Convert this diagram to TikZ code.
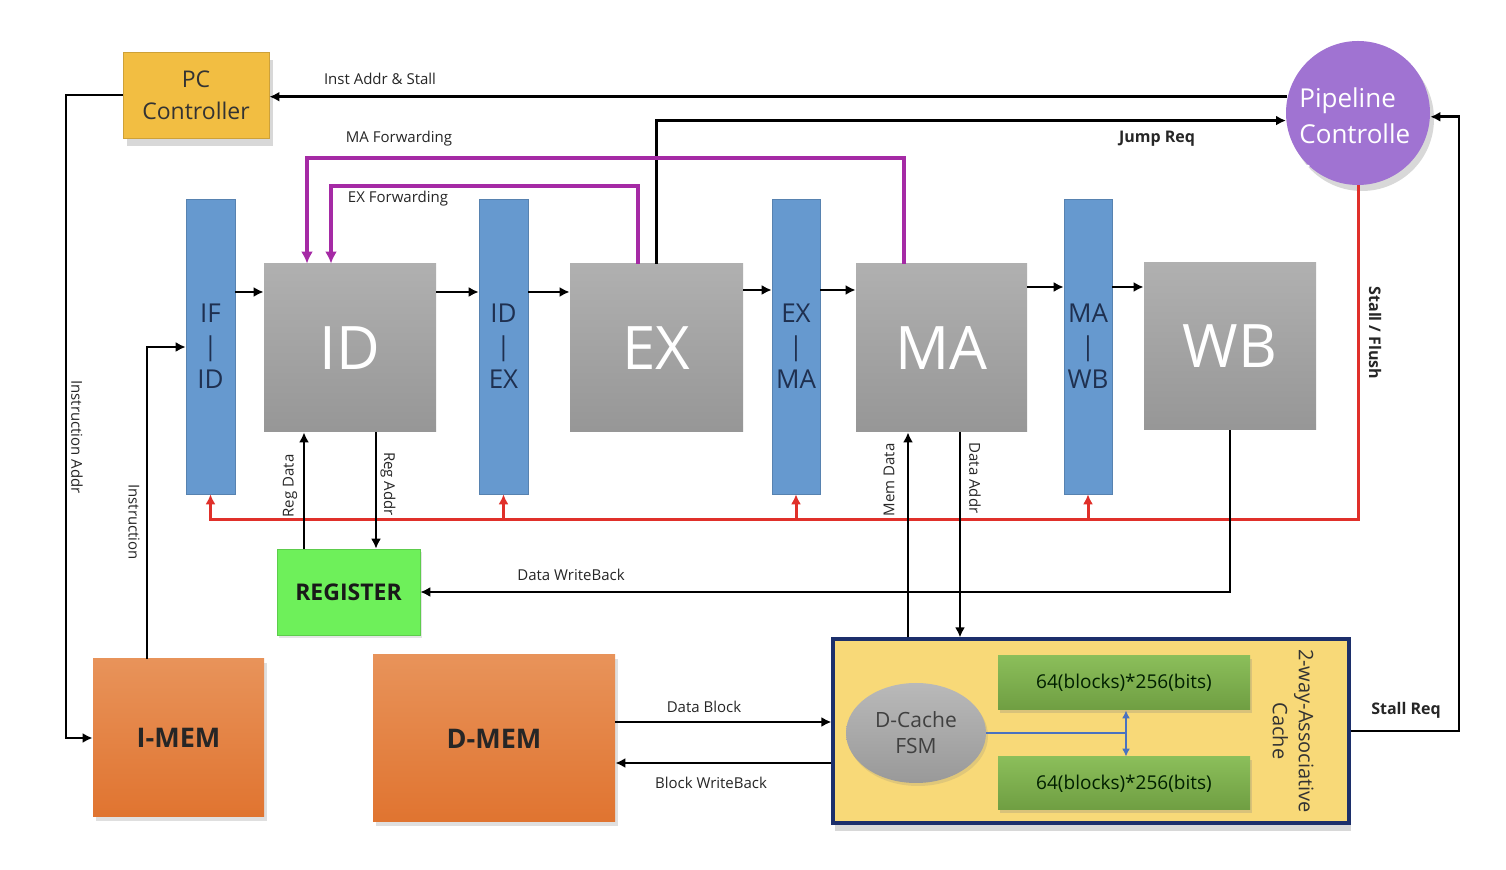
\documentclass[tikz,border=0pt]{standalone}
\usepackage{fontspec}
\setmainfont{Open Sans}
\usetikzlibrary{arrows.meta,shapes.geometric,shadows,fit}
\definecolor{pcyel}{HTML}{F2BE42}
\definecolor{pipepur}{HTML}{A073D2}
\definecolor{barblue}{HTML}{6699CF}
\definecolor{fwdpur}{HTML}{A52AA5}
\definecolor{stallred}{HTML}{E0302A}
\definecolor{reggreen}{HTML}{6EF05A}
\definecolor{cachefill}{HTML}{F8D978}
\definecolor{cacheline}{HTML}{1C2F6B}
\definecolor{blktop}{HTML}{8BBE5A}
\definecolor{blkbot}{HTML}{6F9E42}
\definecolor{memtop}{HTML}{E8935A}
\definecolor{membot}{HTML}{E07430}
\definecolor{bartext}{HTML}{1F3050}
\definecolor{linkblue}{HTML}{4A72C0}
\begin{document}
\begin{tikzpicture}[x=0.5pt,y=-0.5pt,
  lbl/.style={font=\fontsize{7.5}{9}\selectfont, text=black!85, inner sep=1pt},
  blbl/.style={font=\fontsize{8}{9.5}\selectfont\bfseries, text=black!85, inner sep=1pt},
  arr/.style={line width=1.3pt, -{Latex[length=5pt,width=5pt]}},
  fwd/.style={line width=1.8pt, draw=fwdpur, -{Latex[length=6pt,width=6pt]}},
  redarr/.style={line width=1.5pt, draw=stallred, -{Latex[length=5pt,width=5pt]}},
  stagebox/.style={inner sep=0pt, draw=none, top color=gray!62, bottom color=gray!82},
  stagetxt/.style={inner sep=0pt, text=white, font=\fontsize{30}{34}\selectfont},
  latch/.style={inner sep=0pt, draw=barblue!85!black, line width=0.3pt, fill=barblue},
  latchtxt/.style={inner sep=0pt, text=bartext, align=center, font=\fontsize{13}{16.5}\selectfont},
  membox/.style={inner sep=0pt, draw=none, top color=memtop, bottom color=membot, drop shadow={opacity=0.25, shadow xshift=1.5pt, shadow yshift=-2pt}},
  memtxt/.style={inner sep=0pt, text=black!85, font=\fontsize{13.5}{16}\selectfont\bfseries},
  blockbox/.style={inner sep=0pt, draw=none, top color=blktop, bottom color=blkbot, drop shadow={opacity=0.25, shadow xshift=1pt, shadow yshift=-1.5pt}},
  blocktxt/.style={inner sep=0pt, text=black!70!green!40!black, font=\fontsize{9.5}{11}\selectfont}
]
\useasboundingbox (0,0) rectangle (1506,870);
\fill[white] (0,0) rectangle (1506,870);

% main nodes
\node[inner sep=0pt, fill=pcyel, draw=pcyel!85!black, line width=0.4pt,
      drop shadow={opacity=0.3, shadow xshift=2pt, shadow yshift=-4pt}, fit={(123,52)(269,138)}] (pcc) {};
\node[inner sep=0pt, align=center, text=black!80, font=\fontsize{11.5}{16}\selectfont] (pcctxt) at (pcc.center) {PC\\Controller};
\node[circle, inner sep=0pt, minimum size=72pt, fill=pipepur, draw=none,
      drop shadow={opacity=0.3, shadow xshift=2pt, shadow yshift=-3pt}] (pipe) at (1358,113) {};
\node[anchor=north west, inner sep=0pt, align=left, text=white, font=\fontsize{13}{18}\selectfont] (pipetxt) at (1299,87) {Pipeline\\Controlle\\r};

\node[latch, fit={(186,199)(235,494)}] (ifid) {};
\node[latch, fit={(479,199)(528,494)}] (idex) {};
\node[latch, fit={(772,199)(820,494)}] (exma) {};
\node[latch, fit={(1064,199)(1112,494)}] (mawb) {};
\node[latchtxt] (ifidt) at (ifid.center) {IF\\|\\ID};
\node[latchtxt] (idext) at (idex.center) {ID\\|\\EX};
\node[latchtxt] (exmat) at (exma.center) {EX\\|\\MA};
\node[latchtxt] (mawbt) at (mawb.center) {MA\\|\\WB};

\node[stagebox, fit={(264,264)(436,432)}] (id) {};
\node[stagebox, fit={(570,264)(743,432)}] (ex) {};
\node[stagebox, fit={(856,264)(1027,432)}] (ma) {};
\node[stagebox, fit={(1144,263)(1316,430)}] (wb) {};
\node[stagetxt] (idt) at (id.center) {ID};
\node[stagetxt] (ext) at (ex.center) {EX};
\node[stagetxt] (mat) at (ma.center) {MA};
\node[stagetxt] (wbt) at (wb.center) {WB};

\node[inner sep=0pt, fill=reggreen, draw=reggreen!85!black, line width=0.3pt,
      drop shadow={opacity=0.2, shadow xshift=1pt, shadow yshift=-1.5pt}, fit={(277,549)(420,635)}] (reg) {};
\node[inner sep=0pt, text=black!90, font=\fontsize{11.5}{14}\selectfont\bfseries] (regt) at (reg.center) {REGISTER};

\node[membox, fit={(93,659)(264,817)}] (imem) {};
\node[membox, fit={(373,655)(615,822)}] (dmem) {};
\node[memtxt] (imemt) at (imem.center) {I-MEM};
\node[memtxt] (dmemt) at (dmem.center) {D-MEM};

\node[inner sep=0pt, fill=cachefill, draw=cacheline, line width=1.6pt,
      drop shadow={opacity=0.3, shadow xshift=1pt, shadow yshift=-4pt}, fit={(833,639)(1349,823)}] (cache) {};
\node[ellipse, inner sep=0pt, minimum width=70pt, minimum height=50pt, top color=gray!55, bottom color=gray!80, draw=none,
      drop shadow={opacity=0.2, shadow xshift=1pt, shadow yshift=-1.5pt}] (fsm) at (916,733) {};
\node[inner sep=0pt, align=center, text=black!75, font=\fontsize{10.5}{13}\selectfont] (fsmt) at (fsm.center) {D-Cache\\FSM};
\node[blockbox, fit={(998,656)(1250,710)}] (g1) {};
\node[blockbox, fit={(998,757)(1250,810)}] (g2) {};
\node[blocktxt] (g1t) at (g1.center) {64(blocks)*256(bits)};
\node[blocktxt] (g2t) at (g2.center) {64(blocks)*256(bits)};
\node[rotate=-90, align=center, text=black!80, font=\fontsize{10}{13}\selectfont, inner sep=0pt] (cachelbl) at (1293,731) {2-way-Associative\\Cache};

% helper coordinates
\coordinate (ia) at (66,0);
\coordinate (ins) at (147,347);
\coordinate (rowa) at (0,292);
\coordinate (rowb) at (0,290);
\coordinate (rowc) at (0,287);
\coordinate (rb) at (0,520);
\coordinate (mf) at (904,158);
\coordinate (ef) at (638,186);
\coordinate (ida) at (307,0);
\coordinate (idb) at (331,0);
\coordinate (rd) at (304,0);
\coordinate (ra) at (376,0);
\coordinate (md) at (908,0);
\coordinate (da) at (960,0);
\coordinate (db) at (0,722);
\coordinate (bw) at (0,763);
\coordinate (sr) at (1459,0);
\coordinate (bl) at (1126,0);

% top connectors
\draw[arr] (pipe.167) -- (pipe.167 -| pcc.east);
\draw[arr] (ex.north) |- (pipe.186);
\draw[arr] (cache.east) -- (cache.east -| sr) -- (sr |- pipe.-3) -- (pipe.-3);
\draw[arr] (pcc.west) -- (pcc.west -| ia) -- (ia |- imem.west) -- (imem.west);
\draw[arr] (imem.north -| ins) -- (ins) -- (ins -| ifid.west);

% forwarding
\draw[fwd] (ma.north -| mf) -- (mf) -- (mf -| ida) -- (id.north -| ida);
\draw[fwd] (ex.north -| ef) -- (ef) -- (ef -| idb) -- (id.north -| idb);

% pipeline flow
\draw[arr] (ifid.east |- rowa) -- (id.west |- rowa);
\draw[arr] (id.east |- rowa) -- (idex.west |- rowa);
\draw[arr] (idex.east |- rowa) -- (ex.west |- rowa);
\draw[arr] (ex.east |- rowb) -- (exma.west |- rowb);
\draw[arr] (exma.east |- rowb) -- (ma.west |- rowb);
\draw[arr] (ma.east |- rowc) -- (mawb.west |- rowc);
\draw[arr] (mawb.east |- rowc) -- (wb.west |- rowc);

% stall / flush
\draw[redarr] (pipe.south) -- (pipe.south |- rb) -- (rb -| ifid) -- (ifid.south);
\draw[redarr] (rb -| idex) -- (idex.south);
\draw[redarr] (rb -| exma) -- (exma.south);
\draw[redarr] (rb -| mawb) -- (mawb.south);

% register file
\draw[arr] (reg.north -| rd) -- (id.south -| rd);
\draw[arr] (id.south -| ra) -- (reg.north -| ra);
\draw[arr] (wb.south) |- (reg.east);

% memory side
\draw[arr] (cache.north -| md) -- (ma.south -| md);
\draw[arr] (ma.south -| da) -- (cache.north -| da);
\draw[arr] (dmem.east |- db) -- (cache.west |- db);
\draw[arr] (cache.west |- bw) -- (dmem.east |- bw);

% cache internal link
\draw[line width=1.3pt, draw=linkblue] (fsm.east) -- (fsm.east -| bl);
\draw[line width=1.3pt, draw=linkblue, {Latex[length=4pt,width=4pt]}-{Latex[length=4pt,width=4pt]}] (g1.south -| bl) -- (g2.north -| bl);

% labels
\node[lbl] (l1) at (380,79) {Inst Addr \& Stall};
\node[blbl] (l2) at (1157,139) {Jump Req};
\node[lbl] (l3) at (399,139) {MA Forwarding};
\node[lbl] (l4) at (398,199) {EX Forwarding};
\node[lbl, rotate=-90] (l5) at (77,437) {Instruction Addr};
\node[lbl, rotate=-90] (l6) at (134,522) {Instruction};
\node[blbl, rotate=-90] (l7) at (1375,333) {Stall / Flush};
\node[lbl, rotate=90] (l8) at (290,486) {Reg Data};
\node[lbl, rotate=-90] (l9) at (388,484) {Reg Addr};
\node[lbl, rotate=90] (l10) at (889,480) {Mem Data};
\node[lbl, rotate=-90] (l11) at (975,478) {Data Addr};
\node[lbl] (l12) at (571,575) {Data WriteBack};
\node[lbl] (l13) at (704,707) {Data Block};
\node[lbl] (l14) at (711,783) {Block WriteBack};
\node[blbl] (l15) at (1406,710) {Stall Req};
\end{tikzpicture}
\end{document}
